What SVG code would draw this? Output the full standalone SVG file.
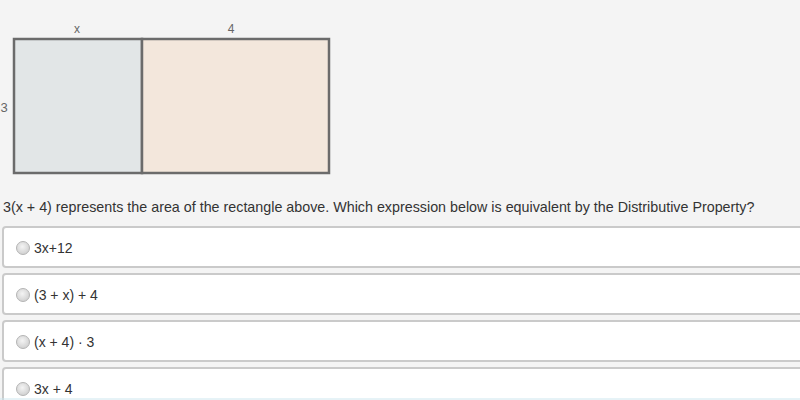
<svg xmlns="http://www.w3.org/2000/svg" width="800" height="400" viewBox="0 0 800 400">
<defs>
<radialGradient id="rg" cx="0.45" cy="0.4" r="0.6">
<stop offset="0" stop-color="#f4f4f4"/>
<stop offset="1" stop-color="#d0d0d0"/>
</radialGradient>
<style>
.lbl{font-family:"Liberation Sans",Arial,sans-serif;font-size:12px;fill:#666}
.q{font-family:"Liberation Sans",Arial,sans-serif;font-size:14px;fill:#333}
.box{fill:#fff;stroke:#cacaca;stroke-width:2}
.radio{fill:url(#rg);stroke:#b5b5b5;stroke-width:1}
.side{stroke:#6b6b6b;stroke-width:2.5}
</style>
</defs>
<rect width="800" height="400" fill="#f4f4f4"/>
<g id="rect-x">
<rect class="side" x="14" y="39" width="128" height="134" fill="#e2e6e7"/>
</g>
<g id="rect-4">
<rect class="side" x="142" y="39" width="187" height="134" fill="#f3e7dc"/>
</g>
<g id="labels">
<text class="lbl" x="77" y="33" text-anchor="middle">x</text>
<text class="lbl" x="231" y="33" text-anchor="middle">4</text>
<text class="lbl" x="4" y="112" text-anchor="middle" style="font-size:13px">3</text>
</g>
<text class="q" x="3" y="212" style="font-size:14.3px">3(x + 4) represents the area of the rectangle above. Which expression below is equivalent by the Distributive Property?</text>
<g id="opt1">
<rect class="box" x="3" y="227" width="810" height="40" rx="3"/>
<circle class="radio" cx="23" cy="248" r="6.5"/>
<text class="q" x="34" y="253">3x+12</text>
</g>
<g id="opt2">
<rect class="box" x="3" y="274" width="810" height="40" rx="3"/>
<circle class="radio" cx="23" cy="295" r="6.5"/>
<text class="q" x="34" y="300">(3 + x) + 4</text>
</g>
<g id="opt3">
<rect class="box" x="3" y="321" width="810" height="40" rx="3"/>
<circle class="radio" cx="23" cy="342" r="6.5"/>
<text class="q" x="34" y="347">(x + 4) · 3</text>
</g>
<g id="opt4">
<rect class="box" x="3" y="368" width="810" height="40" rx="3"/>
<circle class="radio" cx="23" cy="389" r="6.5"/>
<text class="q" x="34" y="394">3x + 4</text>
</g>
<line x1="0" y1="399" x2="800" y2="399" stroke="#cde6ee" stroke-width="1"/>
</svg>
